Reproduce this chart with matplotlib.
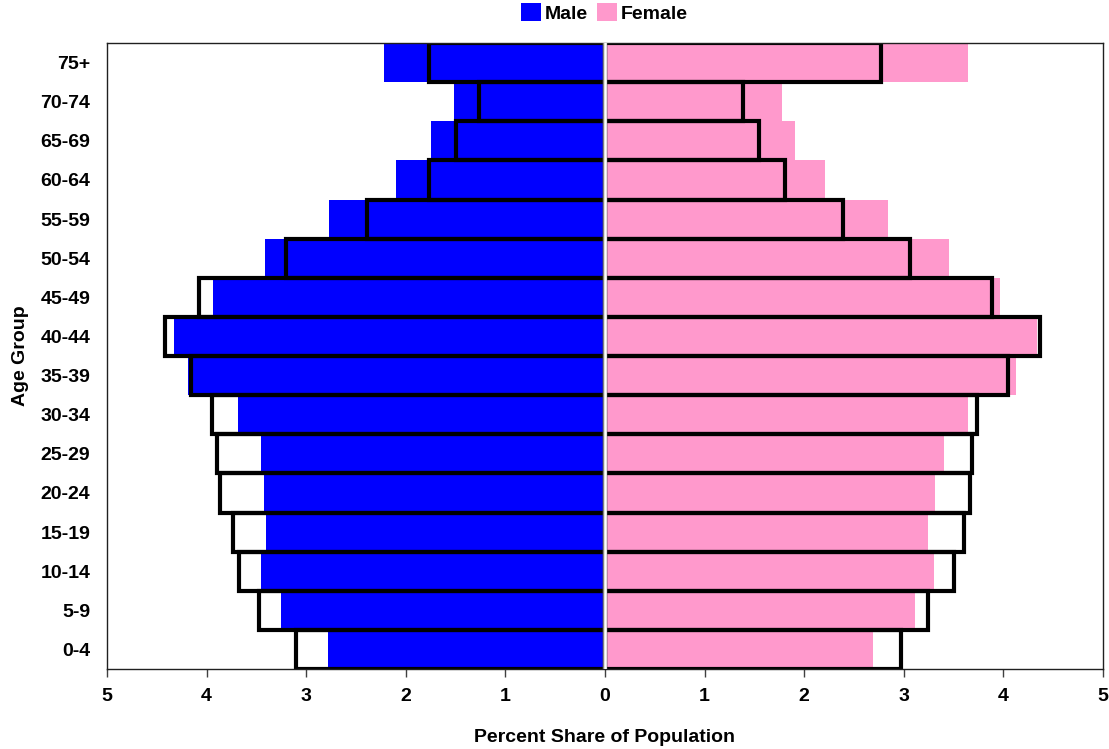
import matplotlib.pyplot as plt
import numpy as np

plt.rcParams['font.family'] = ['Liberation Sans', 'DejaVu Sans']
plt.rcParams['font.weight'] = 'bold'

# age groups, youngest first (bottom of the pyramid)
age_groups = ['0-4', '5-9', '10-14', '15-19', '20-24', '25-29', '30-34', '35-39',
              '40-44', '45-49', '50-54', '55-59', '60-64', '65-69', '70-74', '75+']

# filled bars
male_share = [2.78, 3.25, 3.45, 3.40, 3.42, 3.45, 3.68, 4.19,
              4.33, 3.94, 3.41, 2.77, 2.10, 1.75, 1.52, 2.22]
female_share = [2.69, 3.11, 3.30, 3.24, 3.31, 3.40, 3.64, 4.13,
                4.34, 3.97, 3.45, 2.84, 2.21, 1.91, 1.78, 3.64]

# outlined bars
male_outline = [3.10, 3.47, 3.67, 3.73, 3.87, 3.90, 3.95, 4.16,
                4.42, 4.08, 3.20, 2.39, 1.77, 1.50, 1.27, 1.77]
female_outline = [2.97, 3.24, 3.50, 3.60, 3.66, 3.68, 3.73, 4.05,
                  4.37, 3.89, 3.06, 2.39, 1.81, 1.55, 1.39, 2.77]

x_ticks = [-5, -4, -3, -2, -1, 0, 1, 2, 3, 4, 5]

fig = plt.figure(figsize=(11.09, 7.49), dpi=100)
ax = fig.add_axes([107 / 1109, 1 - 669 / 749, 996 / 1109, 626 / 749])

y = np.arange(len(age_groups))
ax.barh(y, -np.array(male_share), height=1.0, color='#0000ff', label='Male')
ax.barh(y, female_share, height=1.0, color='#ff99cc', label='Female')

ax.barh(y, -np.array(male_outline), height=1.0, facecolor='none',
        edgecolor='black', linewidth=3)
ax.barh(y, female_outline, height=1.0, facecolor='none',
        edgecolor='black', linewidth=3)

# centre divider
ax.axvline(0, color='#808080', linewidth=3.2, zorder=5)
ax.axvline(0, color='white', linewidth=1.8, zorder=6)

ax.set_xlim(-5, 5)
ax.set_ylim(-0.5, len(age_groups) - 0.5)
ax.set_xticks(x_ticks)
ax.set_xticklabels([str(abs(t)) for t in x_ticks], fontsize=14, fontweight='bold')
ax.set_yticks(y)
ax.set_yticklabels(age_groups, fontsize=14, fontweight='bold')
ax.tick_params(axis='y', length=0, pad=12)
ax.tick_params(axis='x', length=6, width=1, color='#404040', pad=8, direction='out')

for s in ax.spines.values():
    s.set_linewidth(1)
    s.set_color('#202020')

ax.set_xlabel('Percent Share of Population', fontsize=14, fontweight='bold', labelpad=17)
ax.set_ylabel('Age Group', fontsize=14, fontweight='bold', labelpad=8)

fig.legend(loc='upper center', bbox_to_anchor=(0.545, 1.006), ncol=2, frameon=False,
           handlelength=1.0, handleheight=1.0, handletextpad=0.2,
           columnspacing=0.5, borderaxespad=0.0, prop={'weight': 'bold', 'size': 14})

fig.savefig('out.png', dpi=100)
